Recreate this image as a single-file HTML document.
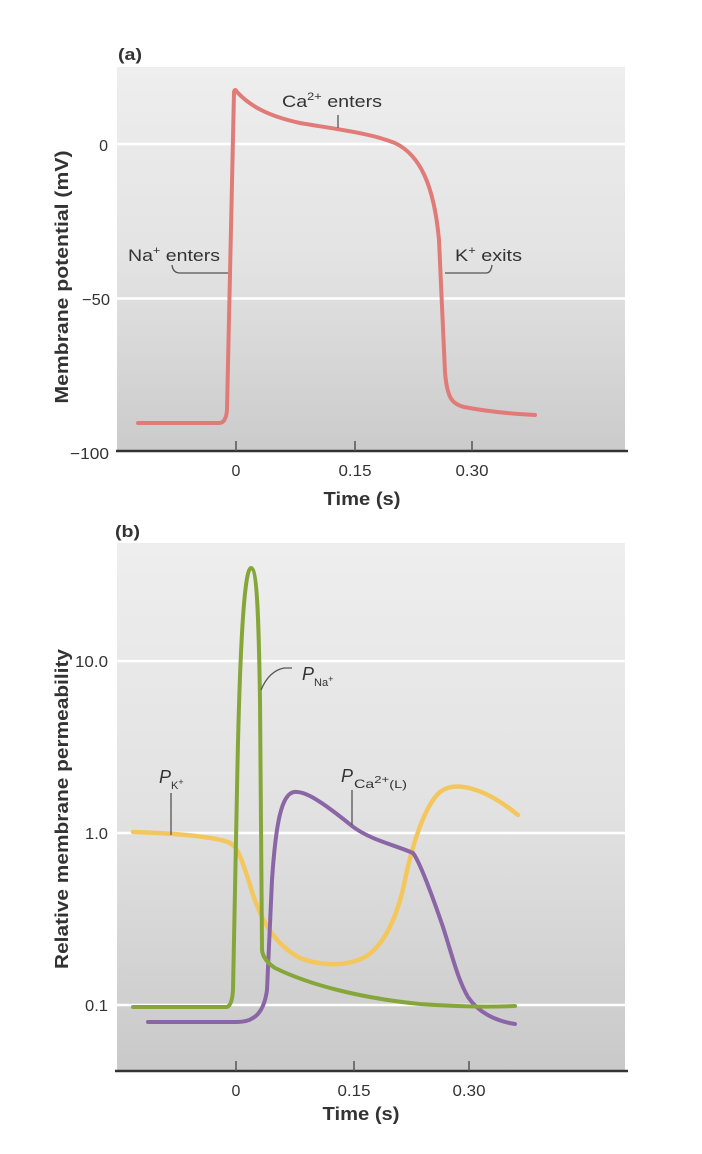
<!DOCTYPE html>
<html>
<head>
<meta charset="utf-8">
<style>
  html,body{margin:0;padding:0;background:#ffffff;}
  svg{display:block;}
  text{font-family:"Liberation Sans", sans-serif; fill:#333;}
</style>
</head>
<body>
<svg width="702" height="1154" viewBox="0 0 702 1154" xmlns="http://www.w3.org/2000/svg">
  <defs>
    <linearGradient id="bgA" x1="0" y1="0" x2="0" y2="1">
      <stop offset="0" stop-color="#eeeeee"/>
      <stop offset="0.5" stop-color="#e3e3e3"/>
      <stop offset="1" stop-color="#cbcbcb"/>
    </linearGradient>
    <linearGradient id="bgB" x1="0" y1="0" x2="0" y2="1">
      <stop offset="0" stop-color="#eeeeee"/>
      <stop offset="0.5" stop-color="#e2e2e2"/>
      <stop offset="1" stop-color="#c9c9c9"/>
    </linearGradient>
  </defs>

  <!-- ============ PANEL A ============ -->
  <text x="118" y="60" font-size="17" font-weight="bold" textLength="24" lengthAdjust="spacingAndGlyphs">(a)</text>
  <rect x="117" y="67" width="508" height="384" fill="url(#bgA)"/>
  <line x1="117" y1="144" x2="625" y2="144" stroke="#ffffff" stroke-width="2.5"/>
  <line x1="117" y1="298.5" x2="625" y2="298.5" stroke="#ffffff" stroke-width="2.5"/>
  <line x1="116" y1="451" x2="628" y2="451" stroke="#333" stroke-width="2.5"/>
  <line x1="236" y1="441" x2="236" y2="451" stroke="#555" stroke-width="1.5"/>
  <line x1="355" y1="441" x2="355" y2="451" stroke="#555" stroke-width="1.5"/>
  <line x1="472" y1="441" x2="472" y2="451" stroke="#555" stroke-width="1.5"/>
  <text x="108" y="151" font-size="16" text-anchor="end">0</text>
  <text x="110" y="305" font-size="16" text-anchor="end" textLength="28" lengthAdjust="spacingAndGlyphs">−50</text>
  <text x="109" y="459" font-size="16" text-anchor="end" textLength="39" lengthAdjust="spacingAndGlyphs">−100</text>
  <text x="236" y="476" font-size="16" text-anchor="middle">0</text>
  <text x="355" y="476" font-size="16" text-anchor="middle" textLength="33" lengthAdjust="spacingAndGlyphs">0.15</text>
  <text x="472" y="476" font-size="16" text-anchor="middle" textLength="33" lengthAdjust="spacingAndGlyphs">0.30</text>
  <text x="362" y="505" font-size="18" font-weight="bold" text-anchor="middle" textLength="77" lengthAdjust="spacingAndGlyphs">Time (s)</text>
  <text x="0" y="0" font-size="18" font-weight="bold" text-anchor="middle" transform="translate(68,277) rotate(-90)" textLength="253" lengthAdjust="spacingAndGlyphs">Membrane potential (mV)</text>

  <path d="M138,423 L219,423 Q226,423 227,410 L234,92 Q235,88 237,92 C250,106 268,116 300,123 C335,129 370,133 395,143 C420,155 434,185 439,240 L445,372 C447,398 452,404 464,407 C490,412 515,414 535,415"
        fill="none" stroke="#e07b78" stroke-width="4" stroke-linejoin="round" stroke-linecap="round"/>

  <text x="282" y="107" font-size="17" textLength="100" lengthAdjust="spacingAndGlyphs">Ca<tspan font-size="11" dy="-7">2+</tspan><tspan dy="7"> enters</tspan></text>
  <line x1="338" y1="115" x2="338" y2="128" stroke="#555" stroke-width="1.3"/>

  <text x="128" y="261" font-size="17" textLength="92" lengthAdjust="spacingAndGlyphs">Na<tspan font-size="11" dy="-7">+</tspan><tspan dy="7"> enters</tspan></text>
  <path d="M172,265 Q173,273 180,273 L228,273" fill="none" stroke="#555" stroke-width="1.3"/>

  <text x="455" y="261" font-size="17" textLength="67" lengthAdjust="spacingAndGlyphs">K<tspan font-size="11" dy="-7">+</tspan><tspan dy="7"> exits</tspan></text>
  <path d="M445,273 L486,273 Q491,273 492,265" fill="none" stroke="#555" stroke-width="1.3"/>

  <!-- ============ PANEL B ============ -->
  <text x="115" y="537" font-size="17" font-weight="bold" textLength="25" lengthAdjust="spacingAndGlyphs">(b)</text>
  <rect x="117" y="543" width="508" height="528" fill="url(#bgB)"/>
  <line x1="117" y1="661" x2="625" y2="661" stroke="#ffffff" stroke-width="2.5"/>
  <line x1="117" y1="833" x2="625" y2="833" stroke="#ffffff" stroke-width="2.5"/>
  <line x1="117" y1="1005" x2="625" y2="1005" stroke="#ffffff" stroke-width="2.5"/>
  <line x1="115" y1="1071" x2="628" y2="1071" stroke="#333" stroke-width="2.5"/>
  <line x1="236" y1="1061" x2="236" y2="1071" stroke="#555" stroke-width="1.5"/>
  <line x1="354" y1="1061" x2="354" y2="1071" stroke="#555" stroke-width="1.5"/>
  <line x1="469" y1="1061" x2="469" y2="1071" stroke="#555" stroke-width="1.5"/>

  <text x="108" y="667" font-size="16" text-anchor="end" textLength="33" lengthAdjust="spacingAndGlyphs">10.0</text>
  <text x="108" y="839" font-size="16" text-anchor="end" textLength="23" lengthAdjust="spacingAndGlyphs">1.0</text>
  <text x="108" y="1011" font-size="16" text-anchor="end" textLength="23" lengthAdjust="spacingAndGlyphs">0.1</text>

  <text x="236" y="1096" font-size="16" text-anchor="middle">0</text>
  <text x="354" y="1096" font-size="16" text-anchor="middle" textLength="33" lengthAdjust="spacingAndGlyphs">0.15</text>
  <text x="469" y="1096" font-size="16" text-anchor="middle" textLength="33" lengthAdjust="spacingAndGlyphs">0.30</text>
  <text x="361" y="1120" font-size="18" font-weight="bold" text-anchor="middle" textLength="77" lengthAdjust="spacingAndGlyphs">Time (s)</text>

  <text x="0" y="0" font-size="18" font-weight="bold" text-anchor="middle" transform="translate(68,809) rotate(-90)" textLength="320" lengthAdjust="spacingAndGlyphs">Relative membrane permeability</text>

  <path d="M133,832 C170,833 210,836 228,842 C238,846 242,860 250,885 C260,920 275,945 300,958 C320,966 345,967 365,957 C385,945 398,915 405,880 C412,845 425,805 440,792 C455,780 485,788 518,815"
        fill="none" stroke="#f3c75e" stroke-width="4.5" stroke-linejoin="round" stroke-linecap="round"/>

  <path d="M148,1022 L237,1022 C255,1022 264,1012 267,990 L272,880 C276,820 282,794 294,792 C305,791 320,800 352,826 C370,840 395,845 413,853 C420,862 432,895 443,927 C452,955 458,980 468,997 C478,1012 495,1021 515,1024"
        fill="none" stroke="#8b66a6" stroke-width="4" stroke-linejoin="round" stroke-linecap="round"/>

  <path d="M133,1007 L226,1007 Q232,1007 233,990 L237,790 C239,680 243,568 251,568 C258,568 259,640 260,700 L262,950 Q263,960 275,968 C310,985 360,998 420,1004 C460,1007 490,1007 515,1006"
        fill="none" stroke="#86a63a" stroke-width="4" stroke-linejoin="round" stroke-linecap="round"/>

  <path d="M261,690 C266,678 274,670 284,668 L292,668" fill="none" stroke="#555" stroke-width="1.3"/>
  <text x="302" y="680" font-size="18" font-style="italic">P</text>
  <text x="314" y="686" font-size="11">Na<tspan font-size="9" dy="-4">+</tspan></text>

  <text x="159" y="783" font-size="18" font-style="italic">P</text>
  <text x="171" y="789" font-size="11">K<tspan font-size="9" dy="-4">+</tspan></text>
  <line x1="171" y1="793" x2="171" y2="835" stroke="#555" stroke-width="1.3"/>

  <text x="341" y="782" font-size="18" font-style="italic">P</text>
  <text x="354" y="788" font-size="12" textLength="53" lengthAdjust="spacingAndGlyphs">Ca<tspan font-size="10" dy="-5">2+</tspan><tspan font-size="11" dy="5">(L)</tspan></text>
  <line x1="352" y1="790" x2="352" y2="825" stroke="#555" stroke-width="1.3"/>
</svg>
</body>
</html>
